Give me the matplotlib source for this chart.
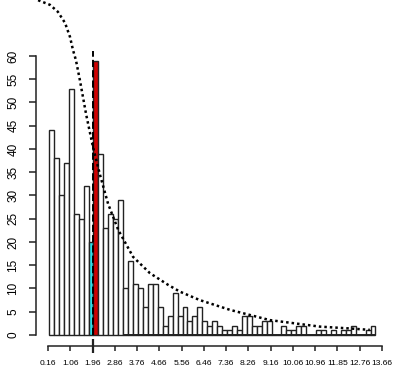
"""
Histogram of values with a highlighted threshold bin and a dotted
reference curve, drawn in the style of an R base-graphics hist().
"""
import numpy as np
import matplotlib as mpl
mpl.rcParams['font.family'] = ['Liberation Sans', 'DejaVu Sans']
import matplotlib.pyplot as plt


# Bin layout: 66 bins of width 0.2 starting at 0.2.
bin_start = 0.2
bin_width = 0.2
counts = [44, 38, 30, 37, 53, 26, 25, 32, 20, 59,
          39, 23, 26, 25, 29, 10, 16, 11, 10, 6,
          11, 11, 6, 2, 4, 9, 4, 6, 3, 4,
          6, 3, 2, 3, 2, 1, 1, 2, 1, 4,
          4, 2, 2, 3, 3, 0, 0, 2, 1, 1,
          2, 2, 0, 0, 1, 1, 0, 1, 0, 1,
          1, 2, 0, 0, 1, 2]
cyan_bin = 8
red_bin = 9

# Dotted reference curve.
curve_x = [-0.24, 0.24, 0.56, 0.85, 1.05, 1.17, 1.29, 1.45, 1.7, 1.98,
           2.26, 2.59, 3.0, 3.6, 4.28, 5.01, 5.5, 6.3, 7.52, 9.13,
           11.15, 12.37, 13.17]
curve_y = [72, 71, 69.5, 67.1, 64.1, 61.3, 59.1, 54.8, 47.5, 40.4,
           34.5, 28.2, 22.6, 16.8, 13.3, 10.8, 9.3, 7.5, 5.4, 3.2,
           1.8, 1.4, 1.1]

# Threshold marker.
threshold = 1.96
threshold_top = 61

# Axis ticks.
xticks = [0.16, 1.06, 1.96, 2.86, 3.76, 4.66, 5.56, 6.46, 7.36, 8.26,
          9.16, 10.06, 10.96, 11.86, 12.76, 13.66]
xtick_labels = ['0.16', '1.06', '1.96', '2.86', '3.76', '4.66', '5.56',
                '6.46', '7.36', '8.26', '9.16', '10.06', '10.96', '11.85',
                '12.76', '13.66']
yticks = list(range(0, 61, 5))

edges = bin_start + bin_width * np.arange(len(counts) + 1)
colors = ['white'] * len(counts)
colors[cyan_bin] = '#30e0e8'
colors[red_bin] = '#d10000'

fig = plt.figure(figsize=(3.97, 3.72), dpi=100)
ax = fig.add_axes([0, 0, 1, 1])
ax.set_xlim(-1.78, 14.27)
ax.set_ylim(-7.96, 72.04)

ax.bar(edges[:-1], counts, width=bin_width, align='edge', color=colors,
       edgecolor='#222222', linewidth=1.0, zorder=2)
ax.hlines(0, edges[15], edges[-1], colors='#222222', linewidth=1.4, zorder=3)
ax.vlines(threshold, 0, threshold_top, colors='black', linestyles='--',
          linewidth=1.4, zorder=4)
ax.plot(curve_x, curve_y, color='black', linestyle=(0, (1, 1.2)),
        linewidth=1.8, zorder=5)

# R-like detached axes.
for side in ('top', 'right'):
    ax.spines[side].set_visible(False)
ax.spines['left'].set_position(('data', -0.33))
ax.spines['left'].set_bounds(0, 60)
ax.spines['bottom'].set_position(('data', -2.4))
ax.spines['bottom'].set_bounds(xticks[0], xticks[-1])
for side in ('left', 'bottom'):
    ax.spines[side].set_linewidth(1.1)
    ax.spines[side].set_color('#222222')

ax.set_yticks(yticks)
ax.set_yticklabels([str(v) for v in yticks], rotation=90, va='center',
                   fontsize=8.5)
ax.set_xticks(xticks)
ax.set_xticklabels(xtick_labels, fontsize=6.1)
ax.xaxis.remove_overlapping_locs = False
ax.set_xticks([threshold], minor=True)
ax.tick_params(axis='y', length=5, width=1.1, pad=7, color='#222222')
ax.tick_params(axis='x', which='major', length=3.6, width=1.1, pad=6.5,
               color='#222222')
ax.tick_params(axis='x', which='minor', direction='inout', length=10,
               width=1.6, color='#222222')

fig.savefig('out.png', dpi=100)
